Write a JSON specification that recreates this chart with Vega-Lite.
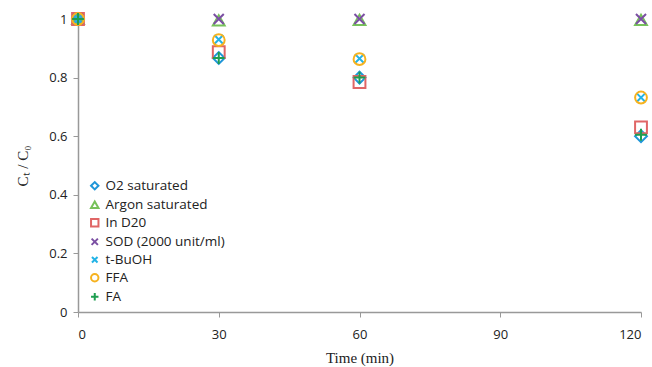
{
  "$schema": "https://vega.github.io/schema/vega-lite/v6.json",
  "width": 563,
  "height": 293,
  "autosize": "none",
  "padding": {"left": 78, "top": 19, "right": 11, "bottom": 55},
  "background": "white",
  "config": {"view": {"stroke": null}},
  "data": {"values": [
    {"series": "O2 saturated", "time": 0, "ratio": 1.0},
    {"series": "O2 saturated", "time": 30, "ratio": 0.867},
    {"series": "O2 saturated", "time": 60, "ratio": 0.80},
    {"series": "O2 saturated", "time": 120, "ratio": 0.60},
    {"series": "Argon saturated", "time": 0, "ratio": 1.0},
    {"series": "Argon saturated", "time": 30, "ratio": 0.995},
    {"series": "Argon saturated", "time": 60, "ratio": 0.997},
    {"series": "Argon saturated", "time": 120, "ratio": 0.997},
    {"series": "In D20", "time": 0, "ratio": 1.0},
    {"series": "In D20", "time": 30, "ratio": 0.887},
    {"series": "In D20", "time": 60, "ratio": 0.785},
    {"series": "In D20", "time": 120, "ratio": 0.63},
    {"series": "SOD (2000 unit/ml)", "time": 0, "ratio": 1.0},
    {"series": "SOD (2000 unit/ml)", "time": 30, "ratio": 1.0},
    {"series": "SOD (2000 unit/ml)", "time": 60, "ratio": 1.0},
    {"series": "SOD (2000 unit/ml)", "time": 120, "ratio": 1.0},
    {"series": "t-BuOH", "time": 0, "ratio": 1.0},
    {"series": "t-BuOH", "time": 30, "ratio": 0.93},
    {"series": "t-BuOH", "time": 60, "ratio": 0.865},
    {"series": "t-BuOH", "time": 120, "ratio": 0.732},
    {"series": "FFA", "time": 0, "ratio": 1.0},
    {"series": "FFA", "time": 30, "ratio": 0.928},
    {"series": "FFA", "time": 60, "ratio": 0.863},
    {"series": "FFA", "time": 120, "ratio": 0.732},
    {"series": "FA", "time": 0, "ratio": 1.0},
    {"series": "FA", "time": 30, "ratio": 0.867},
    {"series": "FA", "time": 60, "ratio": 0.80},
    {"series": "FA", "time": 120, "ratio": 0.605}
  ]},
  "mark": {"type": "point", "filled": false, "size": 140, "opacity": 1, "clip": false},
  "encoding": {
    "x": {
      "field": "time", "type": "quantitative",
      "scale": {"domain": [0, 120], "nice": false, "zero": true},
      "axis": {
        "values": [0, 30, 60, 90, 120],
        "title": "Time (min)",
        "titleFont": "Liberation Serif", "titleFontSize": 15, "titleFontWeight": "normal", "titleColor": "#222",
        "titlePadding": 9,
        "labelFont": "Open Sans", "labelFontSize": 13, "labelColor": "#222", "labelPadding": 11,
        "domainColor": "#999", "domainWidth": 1.5, "tickColor": "#999", "tickSize": 5, "grid": false
      }
    },
    "y": {
      "field": "ratio", "type": "quantitative",
      "scale": {"domain": [0, 1], "nice": false},
      "axis": {
        "values": [0, 0.2, 0.4, 0.6, 0.8, 1],
        "format": "~g",
        "title": "Cₜ / C₀",
        "titleFont": "Liberation Serif", "titleFontSize": 15, "titleFontWeight": "normal", "titleColor": "#222",
        "titlePadding": 18,
        "labelFont": "Open Sans", "labelFontSize": 13, "labelColor": "#222", "labelPadding": 6,
        "domainColor": "#999", "domainWidth": 1.5, "tickColor": "#999", "tickSize": 5, "grid": false
      }
    },
    "strokeWidth": {
      "field": "series", "type": "nominal", "legend": null,
      "scale": {
        "domain": ["O2 saturated", "Argon saturated", "In D20", "SOD (2000 unit/ml)", "t-BuOH", "FFA", "FA"],
        "range": [2, 2, 2, 2, 3.5, 3, 2.2]
      }
    },
    "color": {
      "field": "series", "type": "nominal",
      "scale": {
        "domain": ["O2 saturated", "Argon saturated", "In D20", "SOD (2000 unit/ml)", "t-BuOH", "FFA", "FA"],
        "range": ["#1f96d8", "#77c25a", "#e06666", "#7b4fa3", "#22b3e6", "#f6b21f", "#1e9e50"]
      },
      "legend": {
        "orient": "none", "legendX": 10, "legendY": 160, "title": null,
        "labelFont": "Open Sans", "labelFontSize": 13.5, "labelColor": "#222",
        "symbolSize": 55, "symbolStrokeWidth": 2.2, "rowPadding": 3, "labelOffset": 4
      }
    },
    "shape": {
      "field": "series", "type": "nominal",
      "scale": {
        "domain": ["O2 saturated", "Argon saturated", "In D20", "SOD (2000 unit/ml)", "t-BuOH", "FFA", "FA"],
        "range": ["diamond", "triangle-up", "square", "M-0.85,-0.85L0.85,0.85M-0.85,0.85L0.85,-0.85", "M-0.75,-0.75L0.75,0.75M-0.75,0.75L0.75,-0.75", "circle", "M0,-1L0,1M-1,0L1,0"]
      }
    }
  }
}
